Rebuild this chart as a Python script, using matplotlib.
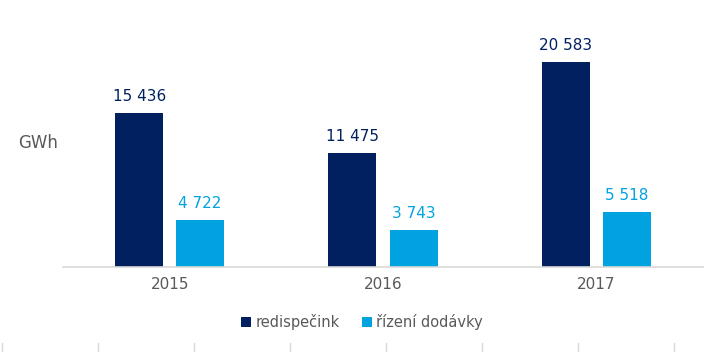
import matplotlib
matplotlib.use("Agg")
import matplotlib.pyplot as plt
import numpy as np
from matplotlib.lines import Line2D

years = ["2015", "2016", "2017"]
redispecink = [15436, 11475, 20583]
rizeni_dodavky = [4722, 3743, 5518]
series_names = ["redispečink", "řízení dodávky"]

navy = "#002060"
light = "#00A3E0"
gray_text = "#595959"

plt.rcParams['font.family'] = ['DejaVu Sans']

fig = plt.figure(figsize=(7.17, 3.52), dpi=100)
ax = fig.add_axes([63/717, (352-267)/352, 640/717, 219/352])

x = np.arange(len(years))
w = 0.225
off = 0.143
b1 = ax.bar(x - off, redispecink, width=w, color=navy, label=series_names[0])
b2 = ax.bar(x + off, rizeni_dodavky, width=w, color=light, label=series_names[1])

def fmt(v):
    return f"{v:,}".replace(",", " ")

for xi, v in zip(x, redispecink):
    ax.text(xi - off, v + 900, fmt(v), ha="center", va="bottom", color=navy, fontsize=11)
for xi, v in zip(x, rizeni_dodavky):
    ax.text(xi + off, v + 900, fmt(v), ha="center", va="bottom", color=light, fontsize=11)

ax.set_xlim(-0.5, 2.5)
ax.set_ylim(0, 22000)
ax.set_xticks(x)
ax.set_xticklabels(years, color=gray_text, fontsize=11)
ax.tick_params(axis="x", length=0, pad=7)
ax.set_yticks([])
for s in ["top", "right", "left"]:
    ax.spines[s].set_visible(False)
ax.spines["bottom"].set_color("#D9D9D9")
ax.spines["bottom"].set_linewidth(1.2)

fig.text(18/717, 1 - 143/352, "GWh", color=gray_text, fontsize=12, ha="left", va="center")

leg = fig.legend(handles=[b1, b2], labels=series_names, loc="center",
                 bbox_to_anchor=(362/717, 1 - 322/352), ncol=2, frameon=False,
                 handlelength=0.7, handleheight=0.7, handletextpad=0.3,
                 columnspacing=1.5, fontsize=10.5)
for t in leg.get_texts():
    t.set_color(gray_text)

for px in [2, 98, 194, 290, 386, 482, 578, 674]:
    fig.add_artist(Line2D([px/717, px/717], [0, 9/352], color="#D9D9D9", lw=1,
                          transform=fig.transFigure))

fig.savefig("out.png", dpi=100)
